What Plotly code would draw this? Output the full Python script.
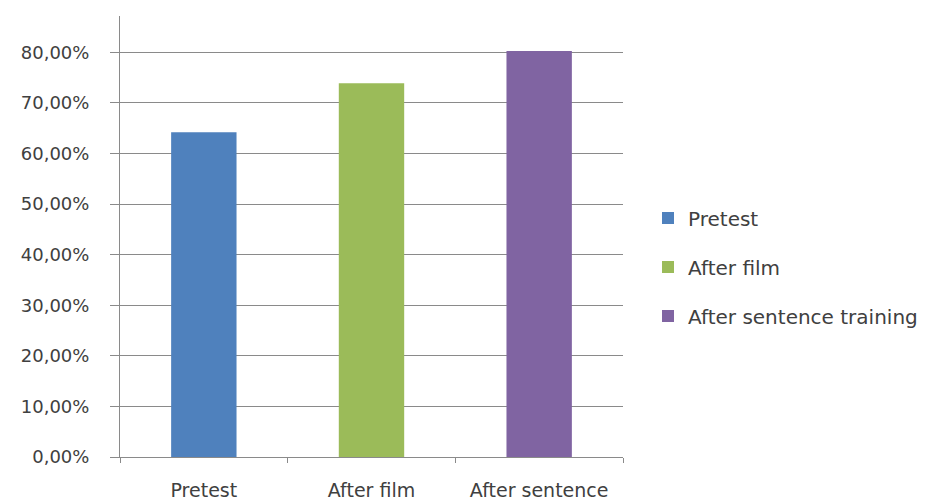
import plotly.graph_objects as go

categories = ["Pretest", "After film", "After sentence training"]
category_labels = ["Pretest", "After film", "After sentence"]
series_names = ["Pretest", "After film", "After sentence training"]
values = [0.642, 0.739, 0.803]
colors = ["#4F81BD", "#9BBB59", "#8064A2"]
y_tickvals = [0, 0.1, 0.2, 0.3, 0.4, 0.5, 0.6, 0.7, 0.8]
y_ticktext = ["0,00%", "10,00%", "20,00%", "30,00%", "40,00%", "50,00%", "60,00%", "70,00%", "80,00%"]

FONT = "DejaVu Sans"
TXT = "#404040"
GRID = "#8a8a8a"

fig = go.Figure()
for i in range(len(values)):
    fig.add_trace(go.Bar(
        x=[categories[i]], y=[values[i]], name=series_names[i],
        marker=dict(color=colors[i], line=dict(width=0)),
        width=0.39, legendgroup=str(i), showlegend=True,
    ))

fig.update_layout(
    width=944, height=503,
    margin=dict(l=120, r=321, t=16, b=46, autoexpand=False),
    paper_bgcolor="white", plot_bgcolor="white",
    barmode="overlay",
    font=dict(family=FONT, size=18, color=TXT),
    showlegend=True,
    legend=dict(
        xref="container", yref="container",
        x=648/944, y=1-267/503, xanchor="left", yanchor="middle",
        font=dict(family=FONT, size=20, color=TXT),
        tracegroupgap=20, traceorder="grouped",
        bgcolor="rgba(0,0,0,0)",
    ),
    xaxis=dict(
        type="category", categoryorder="array", categoryarray=categories,
        tickmode="array", tickvals=categories, ticktext=category_labels,
        showgrid=False, showline=True, linecolor=GRID, linewidth=1,
        ticks="outside", tickson="boundaries", ticklen=5, tickcolor=GRID,
        tickfont=dict(family=FONT, size=19, color=TXT),
        ticklabelstandoff=16, automargin=False, fixedrange=True,
    ),
    yaxis=dict(
        range=[0, 0.872], tickvals=y_tickvals, ticktext=y_ticktext,
        showgrid=True, gridcolor=GRID, gridwidth=1,
        showline=True, linecolor=GRID, linewidth=1,
        ticks="outside", ticklen=9, tickcolor=GRID,
        zeroline=False,
        tickfont=dict(family=FONT, size=18, color=TXT),
        ticklabelstandoff=17, automargin=False, fixedrange=True,
    ),
)

fig.write_html("out.html")
